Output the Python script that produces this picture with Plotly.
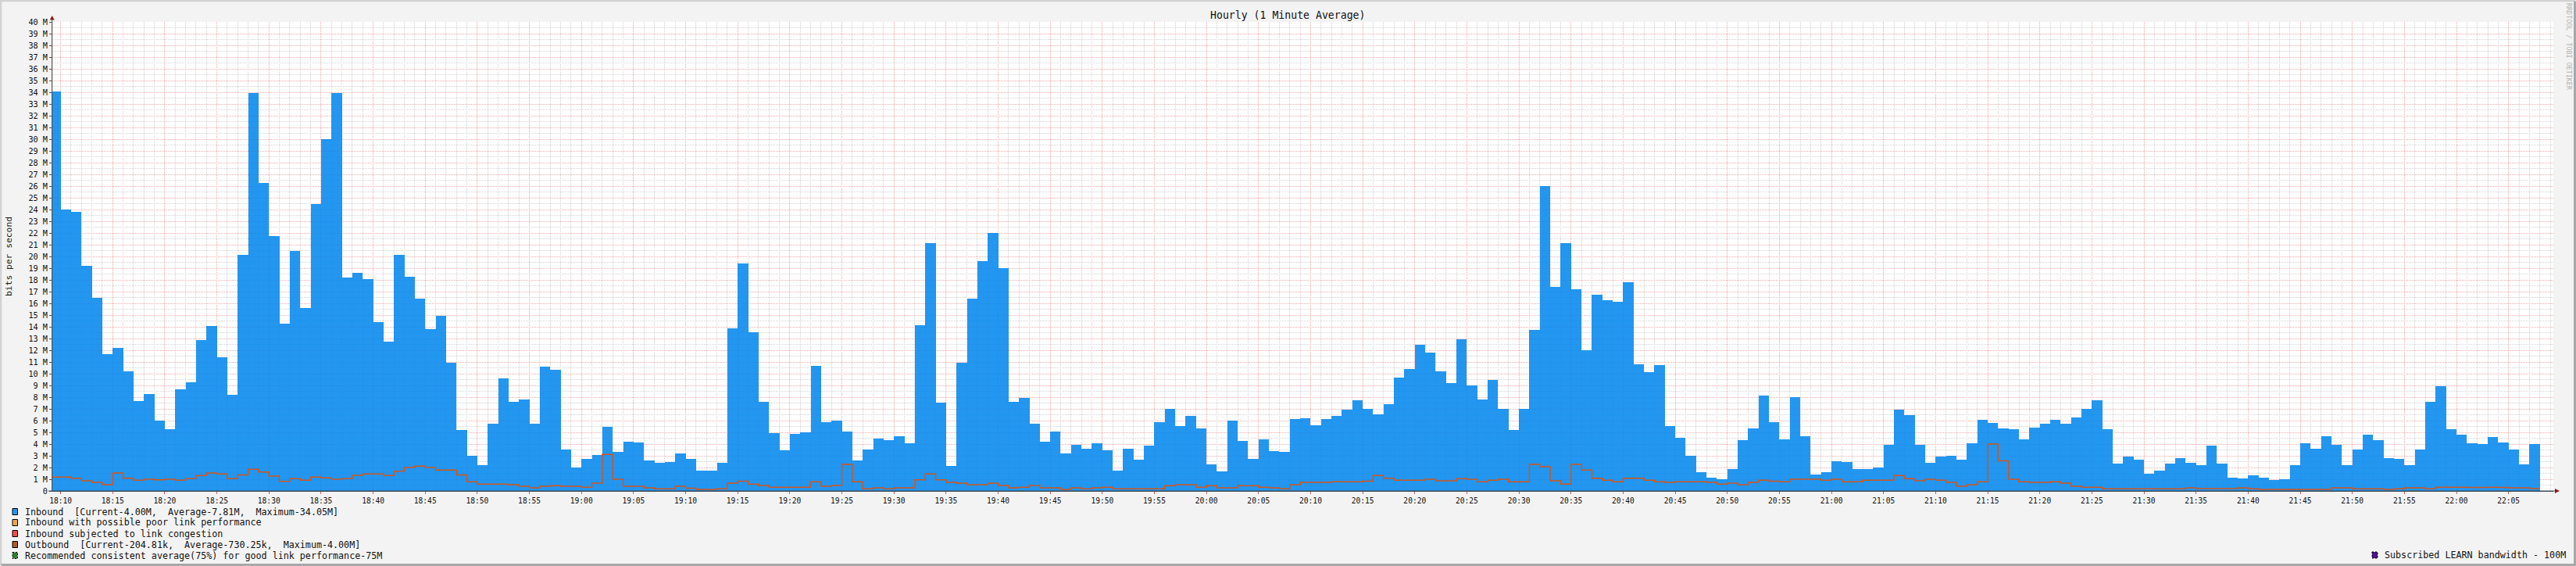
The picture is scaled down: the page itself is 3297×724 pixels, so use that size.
import pandas as pd
import plotly.graph_objects as go

# ---------------- data (Mbit/s, one value per minute, starting 18:09) ----------------
START_TIME = "2024-01-01 18:09"

INBOUND_M = [
    34.1, 24.0, 23.8, 19.23, 16.49, 11.69, 12.17, 10.22, 7.69, 8.29,
    6.03, 5.29, 8.64, 9.29, 12.88, 14.09, 11.43, 8.21, 20.15, 33.96,
    26.29, 21.76, 14.25, 20.5, 15.57, 24.5, 30.01, 33.96, 18.23, 18.62,
    18.1, 14.43, 12.75, 20.15, 18.28, 16.41, 13.83, 14.96, 10.95, 5.23,
    3.02, 2.23, 5.72, 9.62, 7.63, 7.81, 5.75, 10.58, 10.31, 3.54,
    2.02, 2.76, 3.1, 5.48, 3.36, 4.22, 4.14, 2.61, 2.42, 2.48,
    3.21,
    2.76, 1.76, 1.71, 2.42, 13.88, 19.41, 13.56, 7.63, 4.94, 3.5,
    4.89, 5.02, 10.69, 5.9, 6.03, 5.08, 2.63, 3.55, 4.49, 4.35,
    4.67, 4.09, 14.16, 21.15, 7.54, 2.13, 10.94, 16.41, 19.62, 22.02,
    18.97, 7.63, 7.95, 5.76, 4.22, 5.09, 3.22, 3.95, 3.61, 4.09,
    3.48, 1.74, 3.61, 2.69, 3.87, 5.88, 7.01, 5.53, 6.4, 5.35,
    2.27, 1.69, 6.01, 4.27, 2.74, 4.4, 3.4, 3.35, 6.14, 6.22,
    5.6, 6.14, 6.4, 6.93, 7.75, 7.01, 6.54, 7.41, 9.67, 10.41,
    12.47, 11.81, 10.2, 9.2, 12.94, 9.01, 7.8, 9.46, 7.01, 5.22,
    7.01, 13.75, 26.03, 17.41, 21.15, 17.23, 11.97, 16.74, 16.26, 16.13,
    17.82, 10.81, 10.15, 10.75, 5.53, 4.53, 3.0, 1.61, 1.13, 1.0,
    1.87, 4.35, 5.35, 8.14, 5.88, 4.4, 8.01, 4.67, 1.4, 1.61,
    2.53, 2.48, 1.87, 1.87, 2.0, 3.95, 6.93, 6.48, 3.95, 2.4,
    2.96, 3.0, 2.69, 4.09, 6.06, 5.8, 5.35, 5.27, 4.4, 5.4,
    5.75, 6.06, 5.75, 6.27, 7.01, 7.75, 5.27, 2.35, 2.96, 2.69,
    1.48, 1.74, 2.35, 2.82, 2.4, 2.21, 3.87, 2.35, 1.13, 1.08,
    1.34, 1.13, 0.95, 1.0, 2.21, 4.09, 3.61, 4.67, 3.95, 2.21,
    3.53, 4.8, 4.35, 2.82, 2.74, 2.21, 3.53, 7.62, 8.94, 5.27,
    4.8, 4.09, 4.01, 4.61, 4.14, 3.53, 2.27, 4.01,
]

OUTBOUND_M = [
    1.19, 1.19, 1.08, 0.87, 0.74, 0.53, 1.53, 1.08, 0.92, 1.0,
    0.95, 1.0, 0.92, 1.05, 1.32, 1.53, 1.45, 1.05, 1.37, 1.85,
    1.61, 1.27, 0.82, 1.05, 0.92, 1.19, 1.11, 1.0, 1.05, 1.34,
    1.45, 1.45, 1.32, 1.69, 2.0, 2.11, 2.0, 1.79, 1.79, 1.37,
    0.79, 0.58, 0.58, 0.58, 0.53, 0.40, 0.26, 0.40, 0.45, 0.40,
    0.40, 0.32, 0.66, 3.11, 1.0, 0.40, 0.40, 0.26, 0.18, 0.18,
    0.40,
    0.24, 0.13, 0.13, 0.18, 0.66, 0.84, 0.58, 0.47, 0.32, 0.32,
    0.32, 0.32, 0.79, 0.40, 0.47, 2.27, 0.79, 0.18, 0.26, 0.18,
    0.26, 0.26, 0.95, 1.45, 0.95, 0.74, 0.66, 0.53, 0.53, 0.66,
    0.47, 0.26, 0.32, 0.47, 0.26, 0.26, 0.13, 0.26, 0.18, 0.26,
    0.32, 0.18, 0.18, 0.18, 0.18, 0.18, 0.45, 0.53, 0.53, 0.32,
    0.45, 0.26, 0.26, 0.45, 0.45, 0.32, 0.26, 0.18, 0.53, 0.74,
    0.74, 0.74, 0.79, 0.79, 0.79, 0.84, 1.32, 1.08, 0.92, 0.92,
    0.92, 1.0, 0.87, 0.87, 1.05, 1.0, 0.79, 0.92, 1.0, 0.79,
    0.79, 2.27, 2.06, 0.87, 0.58, 2.27, 1.79, 1.08, 0.92, 0.79,
    1.08, 1.08, 0.92, 0.79, 0.74, 0.79, 0.79, 0.79, 0.74, 0.58,
    0.66, 0.53, 0.74, 0.92, 0.84, 0.79, 1.0, 1.0, 1.0, 0.92,
    1.0, 0.79, 0.79, 0.92, 0.92, 0.92, 1.32, 1.05, 0.87, 1.0,
    0.92, 0.74, 0.40, 0.53, 0.79, 4.0, 2.56, 1.0, 0.79, 0.74,
    0.74, 0.79, 0.66, 0.40, 0.32, 0.32, 0.18, 0.18, 0.18, 0.18,
    0.18, 0.18, 0.18, 0.18, 0.26, 0.2, 0.2, 0.2, 0.2, 0.26,
    0.18, 0.13, 0.13, 0.13, 0.13, 0.13, 0.13, 0.13, 0.26, 0.26,
    0.18, 0.18, 0.18, 0.13, 0.18, 0.26, 0.26, 0.18, 0.32, 0.32,
    0.32, 0.3, 0.3, 0.32, 0.3, 0.26, 0.26, 0.2,
]

Y_TICK_VALUES = list(range(0, 41))
Y_TICK_LABELS = ["0"] + [f"{v} M" for v in range(1, 41)]

TITLE = "Hourly (1 Minute Average)"
Y_TITLE = "bits per second"
LEGEND_LINES = [
    ("Inbound\u00a0\u00a0[Current-4.00M,\u00a0\u00a0Average-7.81M,\u00a0\u00a0Maximum-34.05M]", "#2196F3", "solid"),
    ("Inbound with possible poor link performance", "#E8A94E", "solid"),
    ("Inbound subjected to link congestion", "#EF4F4F", "solid"),
    ("Outbound\u00a0\u00a0[Current-204.81k,\u00a0\u00a0Average-730.25k,\u00a0\u00a0Maximum-4.00M]", "#A85A28", "solid"),
    ("Recommended consistent average(75%) for good link performance-75M", "#2E7D32", "dash"),
]
RIGHT_LEGEND = ("Subscribed LEARN bandwidth - 100M", "#4A148C")
WATERMARK = "RRDTOOL / TOBI OETIKER"

# ---------------- geometry ----------------
W, H = 3297, 724
L, R, T, B = 67, 3268, 28, 628
PW, PH = R - L, B - T
FONT = "DejaVu Sans Mono"


def px(x):
    return (x - L) / PW


def py(y):
    return (B - y) / PH


times = pd.date_range(START_TIME, periods=len(INBOUND_M), freq="min")
step_x = list(times) + [times[-1] + pd.Timedelta(minutes=1)]
step_y = OUTBOUND_M + [OUTBOUND_M[-1]]

fig = go.Figure()
fig.add_trace(go.Bar(
    x=times, y=INBOUND_M, width=60000, offset=0,
    marker=dict(color="rgba(5,136,238,0.88)", line=dict(width=0)),
    name="Inbound", hoverinfo="x+y",
))
fig.add_trace(go.Scatter(
    x=step_x, y=step_y, mode="lines", line=dict(color="#D0561E", width=1.5, shape="hv"),
    name="Outbound",
))

x_start = pd.Timestamp("2024-01-01 18:10") + pd.Timedelta(minutes=-0.795)
x_end = pd.Timestamp("2024-01-01 18:10") + pd.Timedelta(minutes=239.3)

fig.update_layout(
    width=W, height=H,
    margin=dict(l=L, r=W - R, t=T, b=H - B, pad=0, autoexpand=False),
    paper_bgcolor="#F3F3F3", plot_bgcolor="#FFFFFF",
    showlegend=False, bargap=0,
    font=dict(family=FONT, color="#111111", size=10),
)
fig.update_xaxes(
    type="date", range=[x_start, x_end], tickformat="%H:%M",
    tick0="2024-01-01 18:10", dtick=300000, automargin=False,
    showgrid=True, gridcolor="#F0A8A8", griddash="1px,1px", gridwidth=1,
    minor=dict(dtick=60000, tick0="2024-01-01 18:10", showgrid=True,
               gridcolor="#D2D2D2", griddash="1px,1px", gridwidth=1),
    ticks="outside", ticklen=3, tickcolor="#D06060",
    showline=True, linecolor="#3E4A56", linewidth=1, zeroline=False,
    tickfont=dict(family=FONT, size=9.6, color="#111"),
)
fig.update_yaxes(
    range=[0, 40], tickvals=Y_TICK_VALUES, ticktext=Y_TICK_LABELS, automargin=False,
    showgrid=True, gridcolor="#F0A8A8", griddash="1px,1px", gridwidth=1,
    minor=dict(dtick=0.5, showgrid=True, gridcolor="#D2D2D2", griddash="1px,1px", gridwidth=1),
    ticks="outside", ticklen=3, tickcolor="#555555",
    showline=True, linecolor="#555555", linewidth=1, zeroline=False,
    tickfont=dict(family=FONT, size=10.2, color="#111"),
)

shapes = []
annotations = []

# outer 3D frame
shapes.append(dict(type="path", xref="paper", yref="paper",
                   path=f"M {px(1)},{py(723)} L {px(1)},{py(1)} L {px(3296)},{py(1)}",
                   line=dict(color="#D2D2D2", width=2.5), layer="below"))
shapes.append(dict(type="path", xref="paper", yref="paper",
                   path=f"M {px(1.5)},{py(722.5)} L {px(3295.5)},{py(722.5)} L {px(3295.5)},{py(1.5)}",
                   line=dict(color="#A8A8A8", width=3), layer="below"))

# axis extensions and arrows
shapes.append(dict(type="line", xref="paper", yref="paper", x0=px(66.7), x1=px(66.7), y0=py(B), y1=py(23),
                   line=dict(color="#555555", width=1)))
shapes.append(dict(type="path", xref="paper", yref="paper",
                   path=f"M {px(63.7)},{py(25.5)} L {px(69.7)},{py(25.5)} L {px(66.7)},{py(20)} Z",
                   fillcolor="#8B1A1A", line=dict(width=0)))
shapes.append(dict(type="line", xref="paper", yref="paper", x0=px(62), x1=px(3271), y0=py(B), y1=py(B),
                   line=dict(color="#3E4A56", width=1)))
shapes.append(dict(type="path", xref="paper", yref="paper",
                   path=f"M {px(3270)},{py(625)} L {px(3270)},{py(631)} L {px(3276)},{py(628)} Z",
                   fillcolor="#8B1A1A", line=dict(width=0)))

# title, axis title, watermark
annotations.append(dict(text=TITLE, xref="paper", yref="paper", x=px(1648), y=py(19),
                        xanchor="center", yanchor="middle", showarrow=False,
                        font=dict(family=FONT, size=13.2, color="#111")))
annotations.append(dict(text=Y_TITLE, xref="paper", yref="paper", x=px(11), y=py(328),
                        xanchor="center", yanchor="middle", showarrow=False, textangle=-90,
                        font=dict(family=FONT, size=11.3, color="#222")))
annotations.append(dict(text=WATERMARK, xref="paper", yref="paper", x=px(3288), y=py(60),
                        xanchor="center", yanchor="middle", showarrow=False, textangle=90,
                        font=dict(family=FONT, size=8.4, color="#B4B4B4")))

# legend
for i, (label, color, dash) in enumerate(LEGEND_LINES):
    yc = 654.5 + 14 * i
    shapes.append(dict(type="rect", xref="paper", yref="paper",
                       x0=px(16), x1=px(22.5), y0=py(yc - 4), y1=py(yc + 4),
                       fillcolor=color, line=dict(color="#000000", width=1, dash=dash if dash == "solid" else "2px,2px")))
    annotations.append(dict(text=label, xref="paper", yref="paper", x=px(30), y=py(yc),
                            xanchor="left", yanchor="middle", showarrow=False,
                            font=dict(family=FONT, size=11.7, color="#111")))

rl_text, rl_color = RIGHT_LEGEND
shapes.append(dict(type="rect", xref="paper", yref="paper",
                   x0=px(3036), x1=px(3043), y0=py(706), y1=py(714),
                   fillcolor=rl_color, line=dict(color="#000000", width=1, dash="2px,2px")))
annotations.append(dict(text=rl_text, xref="paper", yref="paper", x=px(3050), y=py(710),
                        xanchor="left", yanchor="middle", showarrow=False,
                        font=dict(family=FONT, size=11.7, color="#111")))

fig.update_layout(shapes=shapes, annotations=annotations)
fig.write_html(
    "out.html",
    config={"displayModeBar": False},
    post_script="document.body.style.margin='0';document.body.style.padding='0';",
)
